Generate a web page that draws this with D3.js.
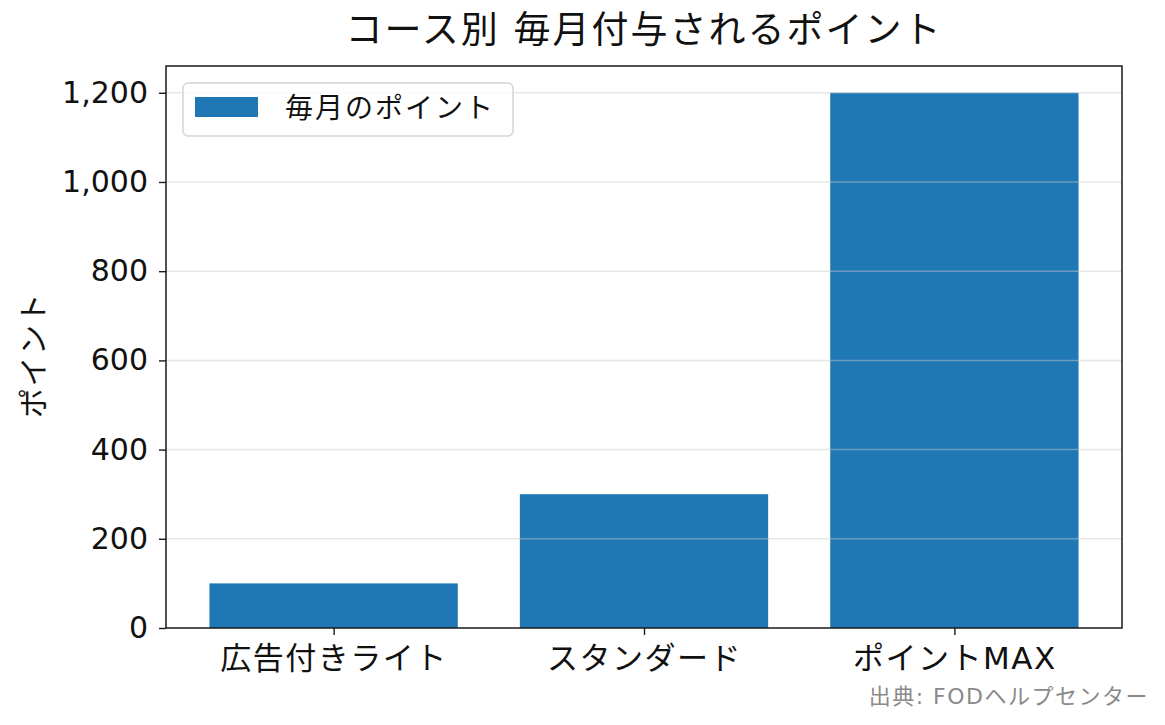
<!DOCTYPE html>
<html>
<head>
<meta charset="utf-8">
<script src="https://cdn.jsdelivr.net/npm/d3@7"></script>
<style>
  html, body { margin: 0; padding: 0; background: #fff; }
  svg { display: block; font-family: "DejaVu Sans", "Noto Sans CJK JP", sans-serif; }
</style>
</head>
<body>
<svg id="chart"></svg>
<script>
const courses = ['広告付きライト', 'スタンダード', 'ポイントMAX'];
const points = [100, 300, 1200];
const yTicks = [0, 200, 400, 600, 800, 1000, 1200];
const seriesName = '毎月のポイント';
const title = 'コース別 毎月付与されるポイント';
const yLabel = 'ポイント';
const source = '出典: FODヘルプセンター';

const width = 1165;
const height = 725;
const margin = { top: 66, right: 43, bottom: 97, left: 166 };
const plotW = width - margin.left - margin.right;
const plotH = height - margin.top - margin.bottom;

const svg = d3.select('#chart')
    .attr('width', width)
    .attr('height', height);

// matplotlib-like x limits: bars of width 0.8 at 0..n-1, 5% margins
const barWidth = 0.8;
const lo = -barWidth / 2, hi = courses.length - 1 + barWidth / 2;
const pad = (hi - lo) * 0.05;
const x = d3.scaleLinear()
    .domain([lo - pad, hi + pad])
    .range([0, plotW]);

const y = d3.scaleLinear()
    .domain([0, d3.max(points) * 1.05])
    .range([plotH, 0]);

const g = svg.append('g')
    .attr('transform', `translate(${margin.left}, ${margin.top})`);

// bars
g.selectAll('rect.bar').data(points).enter()
    .append('rect')
    .attr('class', 'bar')
    .attr('x', (v, i) => x(i - barWidth / 2))
    .attr('width', (v, i) => x(i + barWidth / 2) - x(i - barWidth / 2))
    .attr('y', v => y(v))
    .attr('height', v => y(0) - y(v))
    .attr('fill', '#1f77b4');

// grid drawn over bars, semi transparent
g.selectAll('line.grid').data(yTicks.filter(t => t > 0)).enter()
    .append('line')
    .attr('class', 'grid')
    .attr('x1', 0)
    .attr('x2', plotW)
    .attr('y1', v => y(v))
    .attr('y2', v => y(v))
    .attr('stroke', '#c8c8c8')
    .attr('stroke-opacity', 0.45)
    .attr('stroke-width', 1.5);

// axes
const yAxis = d3.axisLeft(y)
    .tickValues(yTicks)
    .tickFormat(d3.format(','))
    .tickSize(7)
    .tickPadding(11);
const yG = g.append('g').call(yAxis);

const xAxis = d3.axisBottom(x)
    .tickValues(d3.range(courses.length))
    .tickFormat(i => courses[i])
    .tickSize(7)
    .tickPadding(12);
const xG = g.append('g')
    .attr('transform', `translate(0, ${plotH})`)
    .call(xAxis);

[yG, xG].forEach(a => {
    a.select('.domain').remove();
    a.selectAll('.tick line').attr('stroke', '#1a1a1a').attr('stroke-width', 1.4);
    a.selectAll('.tick text')
        .attr('fill', '#111')
        .attr('font-family', '"DejaVu Sans", "Noto Sans CJK JP", sans-serif');
});
yG.selectAll('.tick text').attr('font-size', 30);
xG.selectAll('.tick text').attr('font-size', 31).attr('letter-spacing', 1.5);

// frame
g.append('rect')
    .attr('x', 0).attr('y', 0)
    .attr('width', plotW).attr('height', plotH)
    .attr('fill', 'none')
    .attr('stroke', '#1a1a1a')
    .attr('stroke-width', 1.5);

// title
svg.append('text')
    .attr('x', margin.left + plotW / 2)
    .attr('y', 43)
    .attr('text-anchor', 'middle')
    .attr('font-size', 37)
    .attr('letter-spacing', 2)
    .attr('fill', '#111')
    .text(title);

// y label
svg.append('text')
    .attr('transform', `translate(44, ${margin.top + plotH / 2 + 8}) rotate(-90)`)
    .attr('text-anchor', 'middle')
    .attr('font-size', 30)
    .attr('letter-spacing', 1.5)
    .attr('fill', '#111')
    .text(yLabel);

// legend
const legend = g.append('g').attr('transform', 'translate(17, 17)');
legend.append('rect')
    .attr('width', 330).attr('height', 53)
    .attr('rx', 5)
    .attr('fill', '#fff')
    .attr('fill-opacity', 0.8)
    .attr('stroke', '#d4d4d4')
    .attr('stroke-width', 1.5);
legend.append('rect')
    .attr('x', 12).attr('y', 14)
    .attr('width', 63).attr('height', 20)
    .attr('fill', '#1f77b4');
legend.append('text')
    .attr('x', 102).attr('y', 35)
    .attr('font-size', 28)
    .attr('letter-spacing', 2)
    .attr('fill', '#111')
    .text(seriesName);

// source note
svg.append('text')
    .attr('x', width - 16)
    .attr('y', 704)
    .attr('text-anchor', 'end')
    .attr('font-size', 22)
    .attr('letter-spacing', 1.5)
    .attr('fill', '#8a8a8a')
    .text(source);
</script>
</body>
</html>
